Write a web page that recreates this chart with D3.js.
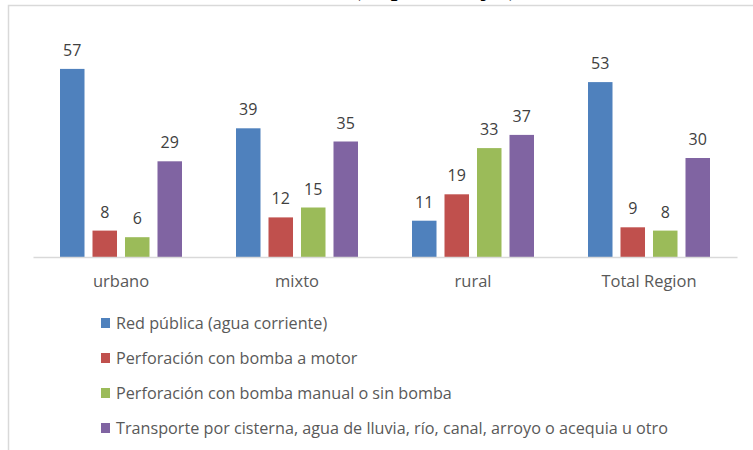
<!DOCTYPE html>
<html>
<head>
<meta charset="utf-8">
<script src="https://cdn.jsdelivr.net/npm/d3@7"></script>
<style>
  html, body { margin: 0; padding: 0; background: #fff; }
  svg { display: block; }
</style>
</head>
<body>
<svg id="chart" width="753" height="450"></svg>
<script>
// Categories (area type) and water-source series, values in percent
const categories = ["urbano", "mixto", "rural", "Total Region"];
const seriesNames = [
  "Red pública (agua corriente)",
  "Perforación con bomba a motor",
  "Perforación con bomba manual o sin bomba",
  "Transporte por cisterna, agua de lluvia, río, canal, arroyo o acequia u otro"
];
const redPublica = [57, 39, 11, 53];
const bombaMotor = [8, 12, 19, 9];
const bombaManual = [6, 15, 33, 8];
const transporte = [29, 35, 37, 30];
const seriesValues = [redPublica, bombaMotor, bombaManual, transporte];
const seriesColors = ["#4F81BD", "#C0504D", "#9BBB59", "#8064A2"];

const svg = d3.select("#chart");
const font = "'Open Sans', 'Noto Sans', sans-serif";

// Title line sits above the visible frame; only its lowest strokes reach the page
svg.append("text")
  .attr("x", 517).attr("y", -3.6)
  .attr("text-anchor", "end")
  .attr("font-family", "'Liberation Serif', serif")
  .attr("font-weight", "bold")
  .attr("font-size", 24)
  .attr("fill", "#000")
  .text("Área de residencia, total en la localidad de cada área (en porcentajes)");

// Chart frame
svg.append("path")
  .attr("d", "M8.5,450 V5.5 H753")
  .attr("fill", "none")
  .attr("stroke", "#d9d9d9")
  .attr("stroke-width", 1.5);

const x0 = d3.scaleBand().domain(categories).range([33, 737]).padding(0);
const x1 = d3.scaleBand().domain(d3.range(seriesNames.length)).range([27, 149]).paddingInner(0.246).paddingOuter(0);
const y = d3.scaleLinear().domain([0, 60]).range([257, 59]);

const rows = categories.map((c, i) => ({
  cat: c,
  vals: seriesValues.map((s, j) => ({ j, v: s[i] }))
}));

const groups = svg.append("g").selectAll("g")
  .data(rows).join("g")
  .attr("transform", d => `translate(${x0(d.cat)},0)`);

groups.selectAll("rect")
  .data(d => d.vals).join("rect")
  .attr("x", d => x1(d.j))
  .attr("y", d => y(d.v))
  .attr("width", x1.bandwidth())
  .attr("height", d => y(0) - y(d.v))
  .attr("fill", d => seriesColors[d.j]);

groups.selectAll("text.val")
  .data(d => d.vals).join("text")
  .attr("class", "val")
  .attr("x", d => x1(d.j) + x1.bandwidth() / 2)
  .attr("y", d => y(d.v) - 13)
  .attr("text-anchor", "middle")
  .attr("font-family", font)
  .attr("font-size", 16)
  .attr("fill", "#404040")
  .text(d => d.v);

// Category axis
const xAxis = d3.axisBottom(x0).tickSize(0).tickPadding(0);
const ax = svg.append("g").attr("transform", `translate(0,${y(0)})`).call(xAxis);
ax.select(".domain").attr("stroke", "#d9d9d9").attr("stroke-width", 1.5);
ax.selectAll(".tick text")
  .attr("dy", null)
  .attr("y", 30)
  .attr("font-family", font)
  .attr("font-size", 16.5)
  .attr("fill", "#595959");

// Legend
const legendY = d3.scalePoint().domain(d3.range(seriesNames.length)).range([323, 428]);
const legend = svg.append("g").selectAll("g")
  .data(seriesNames).join("g")
  .attr("transform", (d, i) => `translate(101,${legendY(i)})`);
legend.append("rect")
  .attr("x", 0).attr("y", -5)
  .attr("width", 9).attr("height", 10)
  .attr("fill", (d, i) => seriesColors[i]);
legend.append("text")
  .attr("x", 15).attr("y", 5.5)
  .attr("font-family", font)
  .attr("font-size", 16.2)
  .attr("fill", "#595959")
  .text(d => d);
</script>
</body>
</html>
